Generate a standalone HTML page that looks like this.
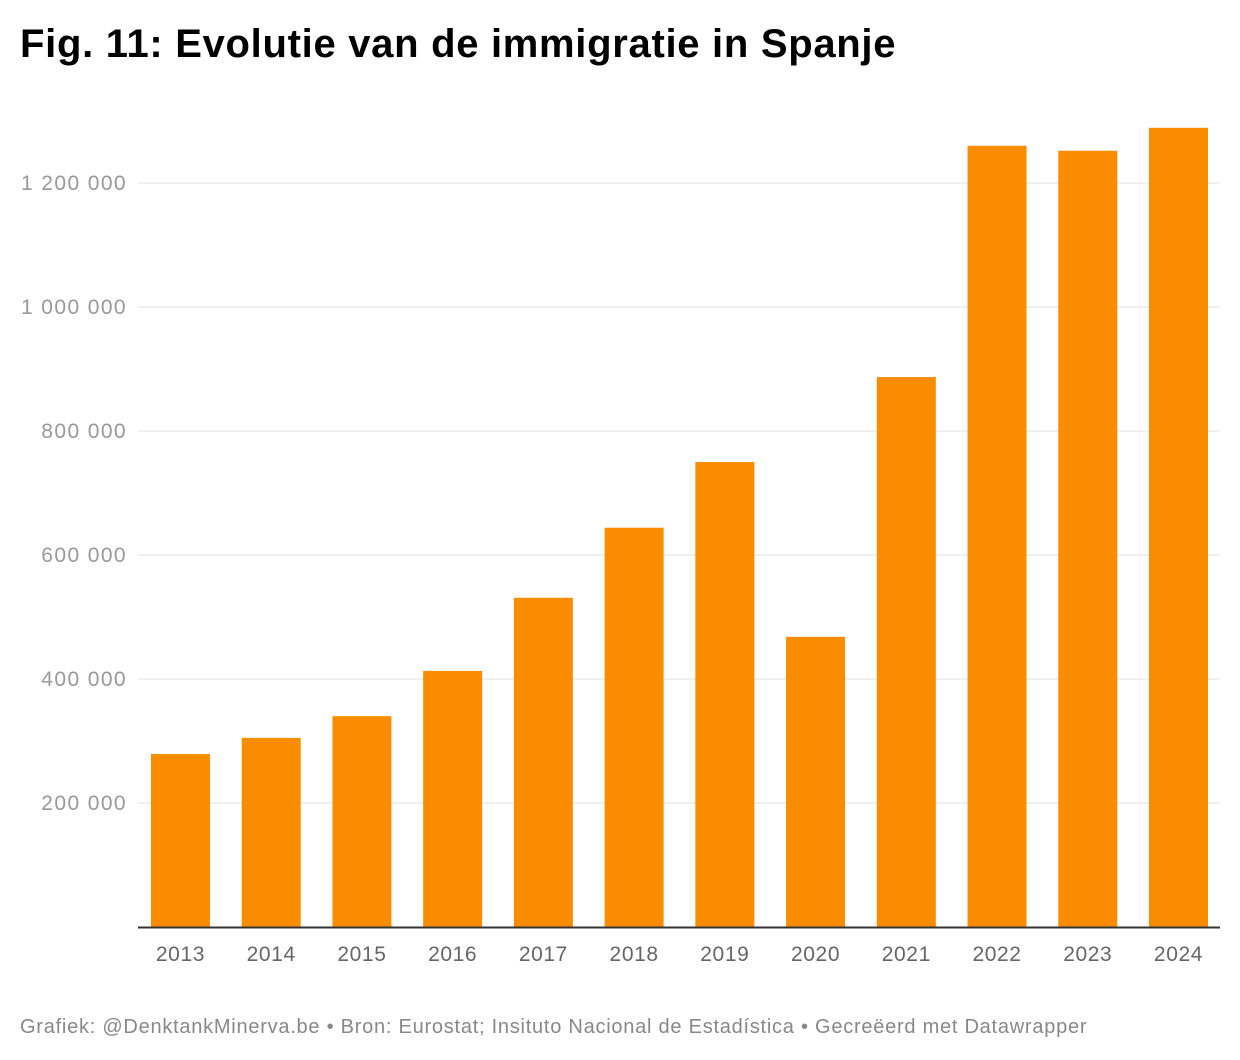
<!DOCTYPE html>
<html><head><meta charset="utf-8"><style>
body{margin:0;background:#fff;font-family:"Liberation Sans",Arial,sans-serif;}
#t{position:absolute;left:20px;top:22px;font-size:40px;font-weight:bold;color:#000;margin:0;letter-spacing:0.7px;white-space:nowrap}
#f{position:absolute;left:20px;top:1016px;font-size:20px;color:#888;letter-spacing:0.75px;white-space:nowrap}
</style></head><body>
<h1 id="t">Fig. 11: Evolutie van de immigratie in Spanje</h1>
<svg id="c" width="1240" height="1060" style="position:absolute;left:0;top:0"></svg>
<div id="f">Grafiek: @DenktankMinerva.be • Bron: Eurostat; Insituto Nacional de Estadística • Gecreëerd met Datawrapper</div>
<script>
const categories=["2013","2014","2015","2016","2017","2018","2019","2020","2021","2022","2023","2024"];
const values=[279000,305000,340000,413000,531000,644000,750000,468000,887000,1260000,1252000,1289000];
const tickValues=[200000,400000,600000,800000,1000000,1200000];
const tickLabels=["200 000","400 000","600 000","800 000","1 000 000","1 200 000"];
const NS="http://www.w3.org/2000/svg";
const svg=document.getElementById('c');
const y=v=>927-v*124/200000;
const x0=135.1,band=90.73,bw=59;
const cx=i=>x0+band*(i+0.5);
function mk(t,a){const e=document.createElementNS(NS,t);for(const k in a)e.setAttribute(k,a[k]);svg.appendChild(e);return e;}
tickValues.forEach((v,i)=>{
 const l=mk('line',{x1:138,x2:1220,y1:y(v),y2:y(v),stroke:'#e0e0e0','stroke-width':1});
 
 
 const t=mk('text',{x:127,y:y(v)+7,'text-anchor':'end','font-size':21,'letter-spacing':1.4,fill:'#999','font-family':'Liberation Sans, sans-serif'});
 t.textContent=tickLabels[i];
 
 
});
values.forEach((v,i)=>{
 const r=mk('rect',{x:cx(i)-bw/2,y:y(v),width:bw,height:927-y(v),fill:'#f98c00'});
 
 
 const t=mk('text',{x:cx(i),y:961,'text-anchor':'middle','font-size':21,'letter-spacing':0.6,fill:'#666','font-family':'Liberation Sans, sans-serif'});
 t.textContent=categories[i];
 
 
});
const ax=mk('line',{x1:138,x2:1220,y1:927.5,y2:927.5,stroke:'#333','stroke-width':2});


</script>
</body></html>
